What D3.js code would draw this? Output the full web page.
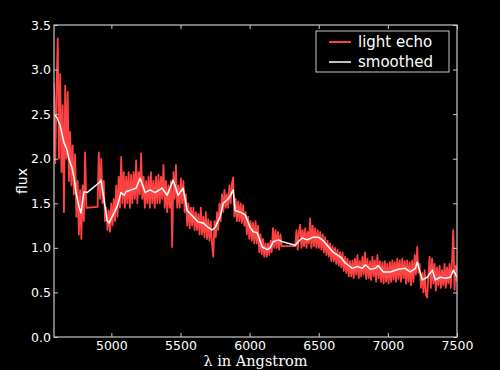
<!DOCTYPE html>
<html>
<head>
<meta charset="utf-8">
<script src="https://cdn.jsdelivr.net/npm/d3@7"></script>
<style>
  html, body { margin: 0; padding: 0; background: #000; }
  svg { display: block; }
</style>
</head>
<body>
<svg id="chart" width="500" height="370"></svg>
<script>
// ---------- data ----------
const xTicks = [5000, 5500, 6000, 6500, 7000, 7500];
const yTicks = [0.0, 0.5, 1.0, 1.5, 2.0, 2.5, 3.0, 3.5];
const seriesNames = ["light echo", "smoothed"];

// light echo spectrum: regularly sampled chunks (start wavelength, step in Angstrom)
const echoChunk1Start = 4585, echoChunk1Step = 9;
const echoChunk1Flux = [2.85,1.95,2.75,3.35,2.0,2.95,1.85,2.6,1.4,2.82,2.0,2.75,1.75,2.3,1.7,2.15,1.6,2.05,1.35,1.75,1.15,1.65,1.1,1.7,1.3,2.07,1.45];

const echoChunk2Start = 4900, echoChunk2Step = 9;
const echoChunk2Flux = [1.46,2.07,1.55,2.0,1.5,1.75,1.3,1.45,1.2,1.42,
  1.18,1.5,1.25,1.55,1.3,1.7,1.35,1.8,1.45,2.02,
  1.5,1.85,1.45,1.8,1.5,1.85,1.45,1.82,1.5,1.85,
  1.55,1.98,1.5,1.85,1.6,2.06,1.55,1.8,1.45,1.75,
  1.5,1.8,1.45,1.85,1.5,1.75,1.45,1.8,1.5,1.82,
  1.5,1.8,1.55,1.93,1.45,1.75,1.4,1.7,1.45,1.75,
  1.01,1.85,1.55,1.93,1.45,1.7,1.45,1.78,1.5,1.75,
  1.4,1.6,1.25,1.5,1.22,1.45,1.25,1.45,1.2,1.4,
  1.2,1.38,1.15,1.45,1.15,1.35,1.12,1.4,1.1,1.32,
  1.08,1.3,1.05,0.9,1.3,1.12,1.4,1.2,1.5,1.3,
  1.6,1.4,1.65,1.45,1.6,1.45,1.7,1.5,1.72,1.79,
  1.35,1.55,1.3,1.52,1.3,1.5,1.28,1.48,1.25,1.4,
  1.15,1.35,1.1,1.3,1.08,1.28,1.05,1.3,1.05,1.25,
  0.95,1.15,0.93,1.1,0.9,1.05,0.9,1.05,0.92,1.08,
  0.95,1.22,1.0,1.2,1.0,1.18,0.98,1.15,1.02];

const echoChunk3Start = 6330, echoChunk3Step = 9;
const echoChunk3Flux = [1.02,1.2,0.98,1.18,1.26,1.0,1.2,1.02,1.22,1.0,
  1.18,1.05,1.33,1.0,1.25,1.02,1.22,1.0,1.2,1.0,
  1.18,0.98,1.15,0.95,1.12,0.92,1.08,0.9,1.05,0.85,
  1.02,0.85,1.0,0.82,0.98,0.8,0.95,0.78,0.95,0.74,
  0.9,0.72,0.88,0.68,0.85,0.68,0.86,0.66,0.88,0.7,
  0.92,0.66,0.85,0.68,0.9,0.7,0.95,0.65,0.88,0.66,
  0.85,0.64,0.9,0.68,0.86,0.62,0.92,0.66,0.85,0.62,
  0.84,0.6,0.85,0.62,0.82,0.6,0.84,0.62,0.86,0.64,
  0.84,0.62,0.88,0.65,0.86,0.62,0.88,0.66,0.85,0.6,
  0.86,0.62,0.84,0.58,0.86,0.62,0.92,0.7,1.01,0.72,
  0.82,0.55,0.72,0.5,0.75,0.48,0.44,0.7,0.9,0.55,
  0.88,0.6,0.82,0.52,0.78,0.58,0.8,0.55,0.75,0.58,
  0.82,0.55,0.78,0.6,0.82,0.55,0.85,1.2,0.53,0.8,0.62];

// smoothed spectrum
const smoothLambda = [4585,4607,4628,4657,4679,4694,4715,4730,4744,4766,4780,4802,4824,4911,4925,4947,4969,4983,5012,5041,
  5070,5092,5106,5142,5179,5208,5244,5280,5316,5367,5403,5447,5483,5519,5548,5591,5628,5664,5700,5729,
  5751,5787,5809,5838,5859,5881,5895,5932,5968,6004,6026,6055,6091,6127,6149,6171,6207,6236,6330,6352,
  6381,6417,6460,6496,6525,6561,6605,6656,6692,6743,6779,6815,6837,6873,6909,6931,6967,7018,7076,7126,
  7162,7199,7213,7228,7249,7285,7322,7343,7379,7416,7452,7474,7500];
const smoothFlux = [2.50,2.46,2.38,2.18,2.10,1.99,1.90,1.79,1.62,1.46,1.39,1.63,1.62,1.73,1.76,1.54,1.31,1.28,1.37,1.46,
  1.62,1.59,1.63,1.65,1.67,1.78,1.62,1.65,1.62,1.67,1.59,1.76,1.59,1.67,1.42,1.35,1.29,1.28,1.23,1.20,
  1.23,1.35,1.50,1.54,1.58,1.65,1.42,1.40,1.37,1.23,1.18,1.17,1.01,0.98,1.00,1.07,1.09,1.07,1.03,1.07,
  1.11,1.09,1.12,1.12,1.09,1.03,0.95,0.90,0.83,0.77,0.79,0.77,0.81,0.76,0.77,0.80,0.73,0.73,0.76,0.77,
  0.73,0.77,0.84,0.75,0.64,0.67,0.75,0.64,0.67,0.66,0.67,0.75,0.67];

// ---------- build tables ----------
function chunk(start, step, flux) {
  return flux.map((f, i) => ({ x: start + i * step, y: f }));
}
const echo = [].concat(
  chunk(echoChunk1Start, echoChunk1Step, echoChunk1Flux),
  chunk(echoChunk2Start, echoChunk2Step, echoChunk2Flux),
  chunk(echoChunk3Start, echoChunk3Step, echoChunk3Flux)
);
const smooth = smoothLambda.map((l, i) => ({ x: l, y: smoothFlux[i] }));

// ---------- layout ----------
const margin = { left: 54, top: 25, right: 43, bottom: 33 };
const W = 500, H = 370;
const iw = W - margin.left - margin.right;
const ih = H - margin.top - margin.bottom;

const x = d3.scaleLinear().domain([4585, 7500]).range([0, iw]);
const y = d3.scaleLinear().domain([0, 3.5]).range([ih, 0]);

const svg = d3.select("#chart");
svg.append("rect").attr("width", W).attr("height", H).attr("fill", "#000");
const g = svg.append("g").attr("transform", `translate(${margin.left},${margin.top})`);

const axisColor = "#c8c8c8";
const tickFont = "'DejaVu Sans', 'Noto Sans', sans-serif";

// clip
svg.append("defs").append("clipPath").attr("id", "clip")
  .append("rect").attr("width", iw).attr("height", ih);

const line = d3.line().x(d => x(d.x)).y(d => y(d.y));
const plot = g.append("g").attr("clip-path", "url(#clip)");
plot.append("path").datum(echo)
  .attr("d", line).attr("fill", "none")
  .attr("stroke", "#ff4242").attr("stroke-width", 1.8).attr("stroke-linejoin", "round");
plot.append("path").datum(smooth)
  .attr("d", line).attr("fill", "none")
  .attr("stroke", "#ffffff").attr("stroke-width", 1.5).attr("stroke-linejoin", "round");

// axes (ticks pointing inward)
function styleAxis(sel) {
  sel.select(".domain").remove();
  sel.selectAll(".tick line").attr("stroke", axisColor);
  sel.selectAll(".tick text").attr("fill", "#fff")
    .style("font-family", tickFont).style("font-size", "12.5px");
}
const xb = g.append("g").attr("transform", `translate(0,${ih})`)
  .call(d3.axisBottom(x).tickValues(xTicks).tickFormat(d3.format("d")).tickSizeInner(-4).tickSizeOuter(0).tickPadding(4));
styleAxis(xb);
const xt = g.append("g")
  .call(d3.axisTop(x).tickValues(xTicks).tickFormat("").tickSizeInner(-4).tickSizeOuter(0));
styleAxis(xt);
const yl = g.append("g")
  .call(d3.axisLeft(y).tickValues(yTicks).tickFormat(d3.format(".1f")).tickSizeInner(-4).tickSizeOuter(0).tickPadding(3));
styleAxis(yl);
const yr = g.append("g").attr("transform", `translate(${iw},0)`)
  .call(d3.axisRight(y).tickValues(yTicks).tickFormat("").tickSizeInner(-4).tickSizeOuter(0));
styleAxis(yr);

// frame
g.append("rect").attr("width", iw).attr("height", ih)
  .attr("fill", "none").attr("stroke", axisColor).attr("stroke-width", 1.2);

// axis labels
svg.append("text")
  .attr("x", margin.left + iw / 2).attr("y", 366)
  .attr("text-anchor", "middle").attr("fill", "#fff")
  .style("font-family", "'DejaVu Serif', 'Liberation Serif', serif").style("font-size", "14.5px")
  .text("λ in Angstrom");
svg.append("text")
  .attr("transform", `translate(27,${margin.top + ih / 2}) rotate(-90)`)
  .attr("text-anchor", "middle").attr("fill", "#fff")
  .style("font-family", tickFont).style("font-size", "14px")
  .text("flux");

// legend
const lg = svg.append("g").attr("transform", "translate(316,31)");
lg.append("rect").attr("width", 133).attr("height", 41)
  .attr("fill", "#000").attr("stroke", axisColor).attr("stroke-width", 1);
const legColors = ["#ff4242", "#ffffff"];
seriesNames.forEach((n, i) => {
  const yy = 11 + i * 20;
  lg.append("line").attr("x1", 13).attr("x2", 35).attr("y1", yy).attr("y2", yy)
    .attr("stroke", legColors[i]).attr("stroke-width", i === 0 ? 2 : 1.5);
  lg.append("text").attr("x", 42).attr("y", yy + 5)
    .attr("fill", "#fff").style("font-family", tickFont).style("font-size", "15px")
    .text(n);
});
</script>
</body>
</html>
